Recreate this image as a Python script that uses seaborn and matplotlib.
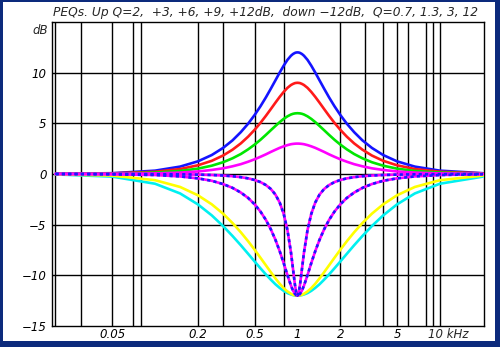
import matplotlib
matplotlib.use("Agg")
import numpy as np
import pandas as pd
import seaborn as sns
import matplotlib.pyplot as plt
from matplotlib.patches import Rectangle
import matplotlib.transforms as mtransforms

# ---- data (kHz, dB) ----
freq_khz = [0.02, 0.05, 0.1, 0.15, 0.2, 0.25, 0.3, 0.35, 0.4, 0.45, 0.5, 0.55, 0.6,
            0.65, 0.7, 0.75, 0.8, 0.85, 0.9, 0.93, 0.96, 0.98, 1.0,
            1.0204, 1.0417, 1.0753, 1.1111, 1.1765, 1.25, 1.3333, 1.4286, 1.5385,
            1.6667, 1.8182, 2.0, 2.2222, 2.5, 2.8571, 3.3333, 4.0, 5.0, 6.6667, 10.0, 20.0]

boost_12db = [0.01, 0.08, 0.33, 0.73, 1.25, 1.87, 2.57, 3.32, 4.13, 4.96, 5.82, 6.69, 7.56,
              8.42, 9.24, 10.01, 10.69, 11.26, 11.67, 11.84, 11.95, 11.99, 12.0,
              11.99, 11.95, 11.84, 11.67, 11.26, 10.69, 10.01, 9.24, 8.42, 7.56, 6.69,
              5.82, 4.96, 4.13, 3.32, 2.57, 1.87, 1.25, 0.73, 0.33, 0.08]
boost_9db = [0.01, 0.06, 0.22, 0.49, 0.86, 1.30, 1.82, 2.40, 3.02, 3.68, 4.36, 5.05, 5.74,
             6.41, 7.04, 7.61, 8.10, 8.50, 8.78, 8.89, 8.97, 8.99, 9.0,
             8.99, 8.97, 8.89, 8.78, 8.50, 8.10, 7.61, 7.04, 6.41, 5.74, 5.05,
             4.36, 3.68, 3.02, 2.40, 1.82, 1.30, 0.86, 0.49, 0.22, 0.06]
boost_6db = [0.01, 0.03, 0.14, 0.30, 0.53, 0.82, 1.16, 1.55, 1.97, 2.43, 2.90, 3.38, 3.86,
             4.32, 4.74, 5.12, 5.44, 5.69, 5.87, 5.94, 5.98, 5.99, 6.0,
             5.99, 5.98, 5.94, 5.87, 5.69, 5.44, 5.12, 4.74, 4.32, 3.86, 3.38,
             2.90, 2.43, 1.97, 1.55, 1.16, 0.82, 0.53, 0.30, 0.14, 0.03]
boost_3db = [0.0, 0.02, 0.06, 0.14, 0.25, 0.40, 0.56, 0.76, 0.97, 1.21, 1.45, 1.70, 1.94,
             2.18, 2.39, 2.58, 2.73, 2.85, 2.94, 2.97, 2.99, 3.0, 3.0,
             3.0, 2.99, 2.97, 2.94, 2.85, 2.73, 2.58, 2.39, 2.18, 1.94, 1.70,
             1.45, 1.21, 0.97, 0.76, 0.56, 0.40, 0.25, 0.14, 0.06, 0.02]
cut_q07 = [-0.04, -0.26, -0.96, -1.92, -3.00, -4.08, -5.13, -6.12, -7.03, -7.87, -8.63, -9.31, -9.91,
           -10.43, -10.88, -11.24, -11.53, -11.75, -11.89, -11.95, -11.99, -12.0, -12.0,
           -12.0, -11.99, -11.95, -11.89, -11.75, -11.53, -11.24, -10.88, -10.43, -9.91, -9.31,
           -8.63, -7.87, -7.03, -6.12, -5.13, -4.08, -3.00, -1.92, -0.96, -0.26]
cut_q13 = [-0.03, -0.16, -0.61, -1.28, -2.10, -2.99, -3.91, -4.84, -5.75, -6.63, -7.47, -8.27, -9.01,
           -9.69, -10.30, -10.83, -11.26, -11.59, -11.82, -11.92, -11.97, -11.99, -12.0,
           -11.99, -11.97, -11.92, -11.82, -11.59, -11.26, -10.83, -10.30, -9.69, -9.01, -8.27,
           -7.47, -6.63, -5.75, -4.84, -3.91, -2.99, -2.10, -1.28, -0.61, -0.16]
cut_q3 = [0.0, -0.03, -0.10, -0.24, -0.43, -0.67, -0.99, -1.37, -1.83, -2.36, -2.99, -3.71, -4.53,
          -5.46, -6.49, -7.61, -8.79, -9.97, -11.01, -11.50, -11.83, -11.96, -12.0,
          -11.96, -11.83, -11.50, -11.01, -9.97, -8.79, -7.61, -6.49, -5.46, -4.53, -3.71,
          -2.99, -2.36, -1.83, -1.37, -0.99, -0.67, -0.43, -0.24, -0.10, -0.03]
cut_q12 = [0.0, 0.0, -0.02, -0.03, -0.06, -0.10, -0.15, -0.22, -0.31, -0.43, -0.59, -0.80, -1.09,
           -1.48, -2.03, -2.81, -3.93, -5.52, -7.74, -9.36, -10.94, -11.71, -12.0,
           -11.71, -10.94, -9.36, -7.74, -5.52, -3.93, -2.81, -2.03, -1.48, -1.09, -0.80,
           -0.59, -0.43, -0.31, -0.22, -0.15, -0.10, -0.06, -0.03, -0.02, 0.0]

x_tick_vals = [0.05, 0.2, 0.5, 1, 2, 5]
x_tick_labels = ["0.05", "0.2", "0.5", "1", "2", "5"]
x_grid_vals = [0.02, 0.03, 0.05, 0.07, 0.08, 0.2, 0.3, 0.5, 0.8, 2, 3, 4, 5, 6, 8, 9, 10]
y_tick_vals = [-15, -10, -5, 0, 5, 10]
title = "PEQs. Up Q=2,  +3, +6, +9, +12dB,  down \u221212dB,  Q=0.7, 1.3, 3, 12"

# ---- figure ----
sns.set_style("white")
plt.rcParams["font.family"] = ["DejaVu Sans"]

W, H = 500, 347
fig = plt.figure(figsize=(W / 100, H / 100), dpi=100, facecolor="#0c2a7c")
fig.patches.append(Rectangle((3 / W, 6 / H), (495 - 3) / W, (345 - 6) / H,
                             transform=fig.transFigure, facecolor="white",
                             edgecolor="none", zorder=-5))
ax = fig.add_axes([52 / W, 21 / H, (484 - 52) / W, (326 - 22) / H])
ax.set_zorder(2)
ax.set_facecolor("white")
ax.set_xscale("log")
ax.set_xlim(0.0189, 20.4)
ax.set_ylim(-15, 15)

for xv in x_grid_vals:
    ax.axvline(xv, color="black", lw=1.0, zorder=1)
for yv in [-10, -5, 0, 5, 10]:
    ax.axhline(yv, color="black", lw=1.0, zorder=1)

df = pd.DataFrame({"f": freq_khz, "b12": boost_12db, "b9": boost_9db, "b6": boost_6db,
                   "b3": boost_3db, "c07": cut_q07, "c13": cut_q13, "c3": cut_q3,
                   "c12": cut_q12})

lw = 1.9
solid = [("b12", "#1414ff"), ("b9", "#ff1a1a"), ("b6", "#00e600"), ("b3", "#ff00ff"),
         ("c07", "#00f0f0"), ("c13", "#ffff00")]
for col, colr in solid:
    sns.lineplot(data=df, x="f", y=col, ax=ax, color=colr, linewidth=lw,
                 estimator=None, sort=False, zorder=3)
for col in ["c3", "c12"]:
    sns.lineplot(data=df, x="f", y=col, ax=ax, color="#ff00ff", linewidth=lw,
                 estimator=None, sort=False, zorder=4)
    sns.lineplot(data=df, x="f", y=col, ax=ax, color="#1a1aff", linewidth=lw,
                 estimator=None, sort=False, zorder=5, linestyle=(0, (1.2, 1.2)))

for s in ax.spines.values():
    s.set_visible(True)
    s.set_color("black")
    s.set_linewidth(1.0)

ax.set_xlabel("")
ax.set_ylabel("")
ax.set_xticks(x_tick_vals)
ax.set_xticklabels(x_tick_labels)
ax.xaxis.set_minor_locator(matplotlib.ticker.NullLocator())
ax.set_yticks(y_tick_vals)
ax.set_yticklabels(["\u221215", "\u221210", "\u22125", "0", "5", "10"])
ax.tick_params(axis="x", length=0, pad=1.5, labelsize=8.5, colors="black")
ax.tick_params(axis="y", length=3, width=1, pad=1, labelsize=8.5, colors="black", direction="out")
for lab in ax.get_xticklabels() + ax.get_yticklabels():
    lab.set_fontstyle("italic")

trans_x = mtransforms.blended_transform_factory(ax.transData, ax.transAxes)
ax.text(8.3, -0.006, "10 kHz", transform=trans_x, ha="left", va="top",
        fontsize=8.5, style="italic")
trans_y = mtransforms.blended_transform_factory(ax.transAxes, ax.transData)
ax.text(-0.01, 14.2, "dB", transform=trans_y, ha="right", va="center",
        fontsize=8.5, style="italic")

fig.text(0.531, 0.964, title, ha="center", va="center", fontsize=8.8, style="italic")

fig.savefig("out.png", dpi=100, facecolor=fig.get_facecolor())
